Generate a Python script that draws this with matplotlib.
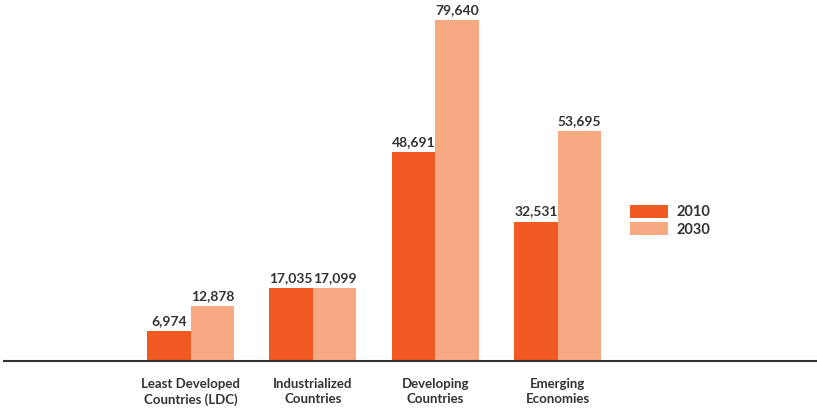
import matplotlib
matplotlib.use("Agg")
import matplotlib.pyplot as plt
import numpy as np

# Population figures per country group (thousands)
categories = ["Least Developed\nCountries (LDC)", "Industrialized\nCountries",
              "Developing\nCountries", "Emerging\nEconomies"]
values_2010 = [6974, 17035, 48691, 32531]
values_2030 = [12878, 17099, 79640, 53695]
series_names = ["2010", "2030"]

dark = "#F15A22"
light = "#F7A982"
text_col = "#333333"

plt.rcParams['font.family'] = ['Lato', 'DejaVu Sans']

fig = plt.figure(figsize=(8.17, 4.09), dpi=100)
ax = fig.add_axes([4 / 817, 48 / 409, 813 / 817, 361 / 409])

x = np.arange(len(categories))
w = 0.356
b1 = ax.bar(x - w / 2, values_2010, w, color=dark, label=series_names[0])
b2 = ax.bar(x + w / 2, values_2030, w, color=light, label=series_names[1])

for bars, vals in [(b1, values_2010), (b2, values_2030)]:
    for rect, v in zip(bars, vals):
        ax.annotate(f"{v:,}", (rect.get_x() + rect.get_width() / 2, v),
                    xytext=(0, 3), textcoords="offset points",
                    ha="center", va="bottom", fontsize=10, fontweight="bold",
                    color=text_col)

ax.set_xlim(-1.525, 5.12)
ax.set_ylim(0, 84300)

for s in ["top", "right", "left"]:
    ax.spines[s].set_visible(False)
ax.spines["bottom"].set_color("#333333")
ax.spines["bottom"].set_linewidth(1.5)
ax.set_yticks([])
ax.set_xticks(x)
ax.set_xticklabels(categories, fontsize=9.5, fontweight="bold", color=text_col,
                   linespacing=1.3)
ax.tick_params(axis="x", length=0, pad=12)

ax.legend(loc="upper left", bbox_to_anchor=(617 / 817, 1 - 192 / 409),
          bbox_transform=fig.transFigure, frameon=False,
          handlelength=2.6, handleheight=0.95, handletextpad=0.55,
          labelspacing=0.2, labelcolor=text_col,
          prop={"weight": "bold", "size": 10.5})

fig.savefig("out.png", dpi=100, facecolor="white")
